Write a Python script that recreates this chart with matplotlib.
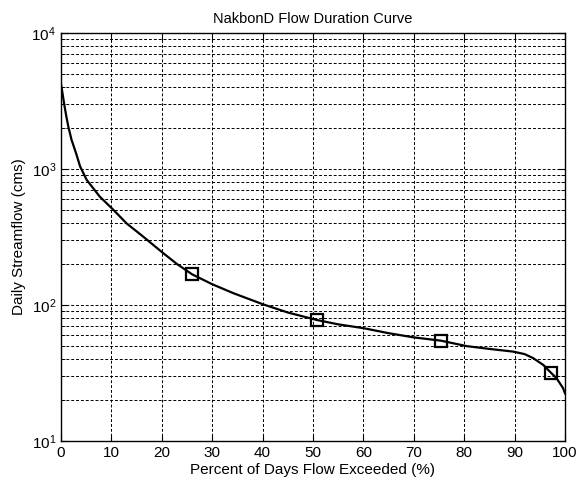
import numpy as np
import matplotlib
matplotlib.use('Agg')
import matplotlib.pyplot as plt
from matplotlib.ticker import LogLocator, FixedLocator

plt.rcParams['font.family'] = ['Liberation Sans', 'DejaVu Sans']
plt.rcParams['mathtext.fontset'] = 'custom'
plt.rcParams['mathtext.rm'] = 'Liberation Sans'
plt.rcParams['mathtext.it'] = 'Liberation Sans:italic'
plt.rcParams['mathtext.bf'] = 'Liberation Sans:bold'

# Flow duration curve
pct_exceeded = [0.0, 0.3, 0.6, 1.0, 1.45, 2.1, 3.0, 3.8, 5.1, 7.7, 10.4, 13.0, 16.3,
                20.0, 23.0, 26.0, 30.0, 34.2, 40.1, 45.0, 50.7, 55.0, 60.0,
                65.0, 69.9, 75.4, 80.5, 85.0, 89.7, 92.0, 93.7, 95.7, 97.3, 98.3,
                99.0, 99.6, 100.0]
flow_cms = [4200, 3600, 3050, 2500, 2050, 1633, 1300, 1040, 830, 625, 500, 398, 318,
            245, 200, 168, 142, 122, 101, 88, 77.6, 72, 67.5,
            62, 57.8, 54.6, 49.8, 47.5, 45.4, 43.5, 40.6, 36.2, 31.5, 29.0,
            26.5, 24.5, 22.4]

# marked points on the curve
marker_pct = [26.0, 50.7, 75.4, 97.3]
marker_flow = [168, 77.6, 54.6, 31.5]

fig = plt.figure(figsize=(5.77, 4.83), dpi=100)
ax = fig.add_axes([0.1057, 0.087, 0.8735, 0.845])

ax.plot(pct_exceeded, flow_cms, color='black', linewidth=1.6, zorder=3)
ax.plot(marker_pct, marker_flow, linestyle='none', marker='s', markersize=8,
        markerfacecolor='none', markeredgecolor='black', markeredgewidth=1.6, zorder=4)

ax.set_yscale('log')
ax.set_xlim(0, 100)
ax.set_ylim(10, 1e4)
ax.xaxis.set_major_locator(FixedLocator(np.arange(0, 101, 10)))
ax.yaxis.set_major_locator(LogLocator(base=10, numticks=10))
ax.yaxis.set_minor_locator(LogLocator(base=10, subs=np.arange(2, 10), numticks=20))

# dashed grid everywhere, MATLAB style
grid_style = dict(color='black', linestyle=(0, (3, 2)), linewidth=0.7)
ax.grid(True, which='major', axis='both', **grid_style)
ax.grid(True, which='minor', axis='y', **grid_style)

ax.tick_params(which='both', direction='in', top=True, right=True, labelsize=11)
ax.tick_params(which='major', length=5)
ax.tick_params(which='minor', length=3)
for sp in ax.spines.values():
    sp.set_linewidth(1.0)

ax.set_xlabel('Percent of Days Flow Exceeded (%)', fontsize=11, labelpad=2)
ax.set_ylabel('Daily Streamflow (cms)', fontsize=11, labelpad=4)
ax.set_title('NakbonD Flow Duration Curve', fontsize=10.5, pad=7)

plt.savefig('out.png', dpi=100)
